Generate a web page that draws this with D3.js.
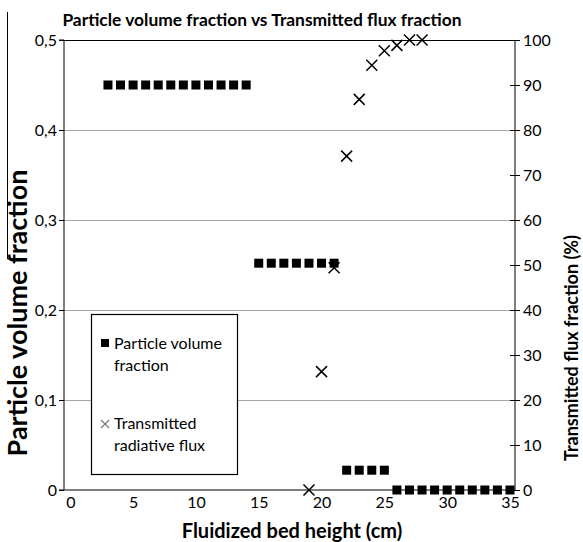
<!DOCTYPE html>
<html lang="en">
<head>
<meta charset="UTF-8">
<title>Particle volume fraction vs Transmitted flux fraction</title>
<script src="https://d3js.org/d3.v7.min.js"></script>
<style>
  body { margin: 0; background: #fff; }
  text { font-family: Lato, "Open Sans", sans-serif; fill: #000; }
</style>
</head>
<body>
<div id="chart"></div>
<script>
// bed height (cm) vs particle volume fraction
var volHeight = [3, 4, 5, 6, 7, 8, 9, 10, 11, 12, 13, 14,
                 15, 16, 17, 18, 19, 20, 21,
                 22, 23, 24, 25,
                 26, 27, 28, 29, 30, 31, 32, 33, 34, 35];
var volFraction = [0.45, 0.45, 0.45, 0.45, 0.45, 0.45, 0.45, 0.45, 0.45, 0.45, 0.45, 0.45,
                   0.252, 0.252, 0.252, 0.252, 0.252, 0.252, 0.252,
                   0.022, 0.022, 0.022, 0.022,
                   0, 0, 0, 0, 0, 0, 0, 0, 0, 0];

// bed height (cm) vs transmitted flux (%)
var fluxHeight = [19, 20, 21, 22, 23, 24, 25, 26, 27, 28];
var fluxPercent = [0, 26.3, 49.4, 74.2, 86.8, 94.4, 97.6, 98.8, 100, 100];

var xTicks = [0, 5, 10, 15, 20, 25, 30, 35];
var yLeftTicks = [0, 0.1, 0.2, 0.3, 0.4, 0.5];
var yRightTicks = [0, 10, 20, 30, 40, 50, 60, 70, 80, 90, 100];

var width = 583, height = 542;
var plotLeft = 64, plotRight = 515, plotTop = 40, plotBottom = 490;

var svg = d3.select("#chart").append("svg")
    .attr("width", width)
    .attr("height", height);

var x = d3.scaleLinear().domain([-0.5, 35.4]).range([plotLeft, plotRight]);
var yL = d3.scaleLinear().domain([0, 0.5]).range([plotBottom, plotTop]);
var yR = d3.scaleLinear().domain([0, 100]).range([plotBottom, plotTop]);

// gridlines
svg.append("g").selectAll("line")
    .data(yLeftTicks.filter(function(d) { return d > 0 && d < 0.5; }))
    .enter().append("line")
    .attr("x1", plotLeft).attr("x2", plotRight)
    .attr("y1", function(d) { return Math.round(yL(d)) + 0.5; })
    .attr("y2", function(d) { return Math.round(yL(d)) + 0.5; })
    .attr("stroke", "#a6a6a6").attr("stroke-width", 1);

// top border
svg.append("line")
    .attr("x1", plotLeft).attr("x2", plotRight)
    .attr("y1", plotTop + 0.5).attr("y2", plotTop + 0.5)
    .attr("stroke", "#000").attr("stroke-width", 1.2);

// left axis
var leftAxis = d3.axisLeft(yL)
    .tickValues(yLeftTicks)
    .tickSize(5)
    .tickFormat(function(d) { return d === 0 ? "0" : d3.format(".1f")(d).replace(".", ","); });
var gL = svg.append("g").attr("transform", "translate(" + plotLeft + ",0)").call(leftAxis);
gL.select(".domain").attr("d", "M-5," + plotTop + "H0V" + plotBottom + "H-5");

// right axis, ticks cross the line
var rightAxis = d3.axisRight(yR)
    .tickValues(yRightTicks)
    .tickSize(5);
var gR = svg.append("g").attr("transform", "translate(" + plotRight + ",0)").call(rightAxis);
gR.select(".domain").attr("d", "M0," + plotTop + "V" + plotBottom);
gR.selectAll(".tick line").attr("x1", -5);

// bottom axis
var bottomAxis = d3.axisBottom(x)
    .tickValues(xTicks)
    .tickSize(0)
    .tickPadding(7);
var gB = svg.append("g").attr("transform", "translate(0," + plotBottom + ")").call(bottomAxis);
gB.select(".domain").attr("d", "M" + plotLeft + ",0H" + plotRight);

[gL, gR, gB].forEach(function(g) {
    g.selectAll(".tick text").style("font-size", "16px").attr("fill", "#000");
    g.selectAll("line, path").attr("stroke", "#000");
});
gL.selectAll(".tick text").attr("x", -7);
gR.selectAll(".tick text").attr("x", 8);

// particle volume fraction squares
var sq = 9;
svg.append("g").selectAll("rect")
    .data(volHeight)
    .enter().append("rect")
    .attr("x", function(d) { return x(d) - sq / 2; })
    .attr("y", function(d, i) { return yL(volFraction[i]) - sq / 2; })
    .attr("width", sq).attr("height", sq)
    .attr("fill", "#000");

// transmitted flux crosses
var cs = 5.5;
svg.append("g").selectAll("path")
    .data(fluxHeight)
    .enter().append("path")
    .attr("transform", function(d, i) { return "translate(" + x(d) + "," + yR(fluxPercent[i]) + ")"; })
    .attr("d", "M" + -cs + "," + -cs + "L" + cs + "," + cs + "M" + -cs + "," + cs + "L" + cs + "," + -cs)
    .attr("stroke", "#000").attr("stroke-width", 1.5).attr("fill", "none");

// legend
var lg = svg.append("g");
lg.append("rect")
    .attr("x", 91.5).attr("y", 314.5).attr("width", 146).attr("height", 160)
    .attr("fill", "#fff").attr("stroke", "#000").attr("stroke-width", 1.2);
lg.append("rect").attr("x", 101).attr("y", 339).attr("width", 8).attr("height", 8).attr("fill", "#000");
lg.append("path")
    .attr("d", "M101,420L109,428M101,428L109,420")
    .attr("stroke", "#777").attr("stroke-width", 1.2);
var legendLines = [["Particle volume", 349], ["fraction", 371], ["Transmitted", 429], ["radiative flux", 451]];
lg.selectAll("text.leg")
    .data(legendLines)
    .enter().append("text")
    .attr("class", "leg")
    .attr("x", 114)
    .attr("y", function(d) { return d[1]; })
    .style("font-size", "16px")
    .text(function(d) { return d[0]; });

// titles
svg.append("text")
    .attr("x", 262).attr("y", 26)
    .attr("text-anchor", "middle")
    .style("font-size", "17.4px").style("font-weight", "bold")
    .text("Particle volume fraction vs Transmitted flux fraction");

svg.append("text")
    .attr("x", 292).attr("y", 538)
    .attr("text-anchor", "middle")
    .style("font-size", "20px").style("font-weight", "bold")
    .text("Fluidized bed height (cm)");

svg.append("text")
    .attr("transform", "translate(27,313) rotate(-90)")
    .attr("text-anchor", "middle")
    .style("font-size", "27px").style("font-weight", "bold")
    .text("Particle volume fraction");

svg.append("text")
    .attr("transform", "translate(578,348) rotate(-90)")
    .attr("text-anchor", "middle")
    .style("font-size", "18px").style("font-weight", "bold")
    .text("Transmitted flux fraction (%)");

// stray bracket line at top-left of the original figure
svg.append("path")
    .attr("d", "M7.5,12V259H22")
    .attr("fill", "none").attr("stroke", "#000").attr("stroke-width", 1);
</script>
</body>
</html>
